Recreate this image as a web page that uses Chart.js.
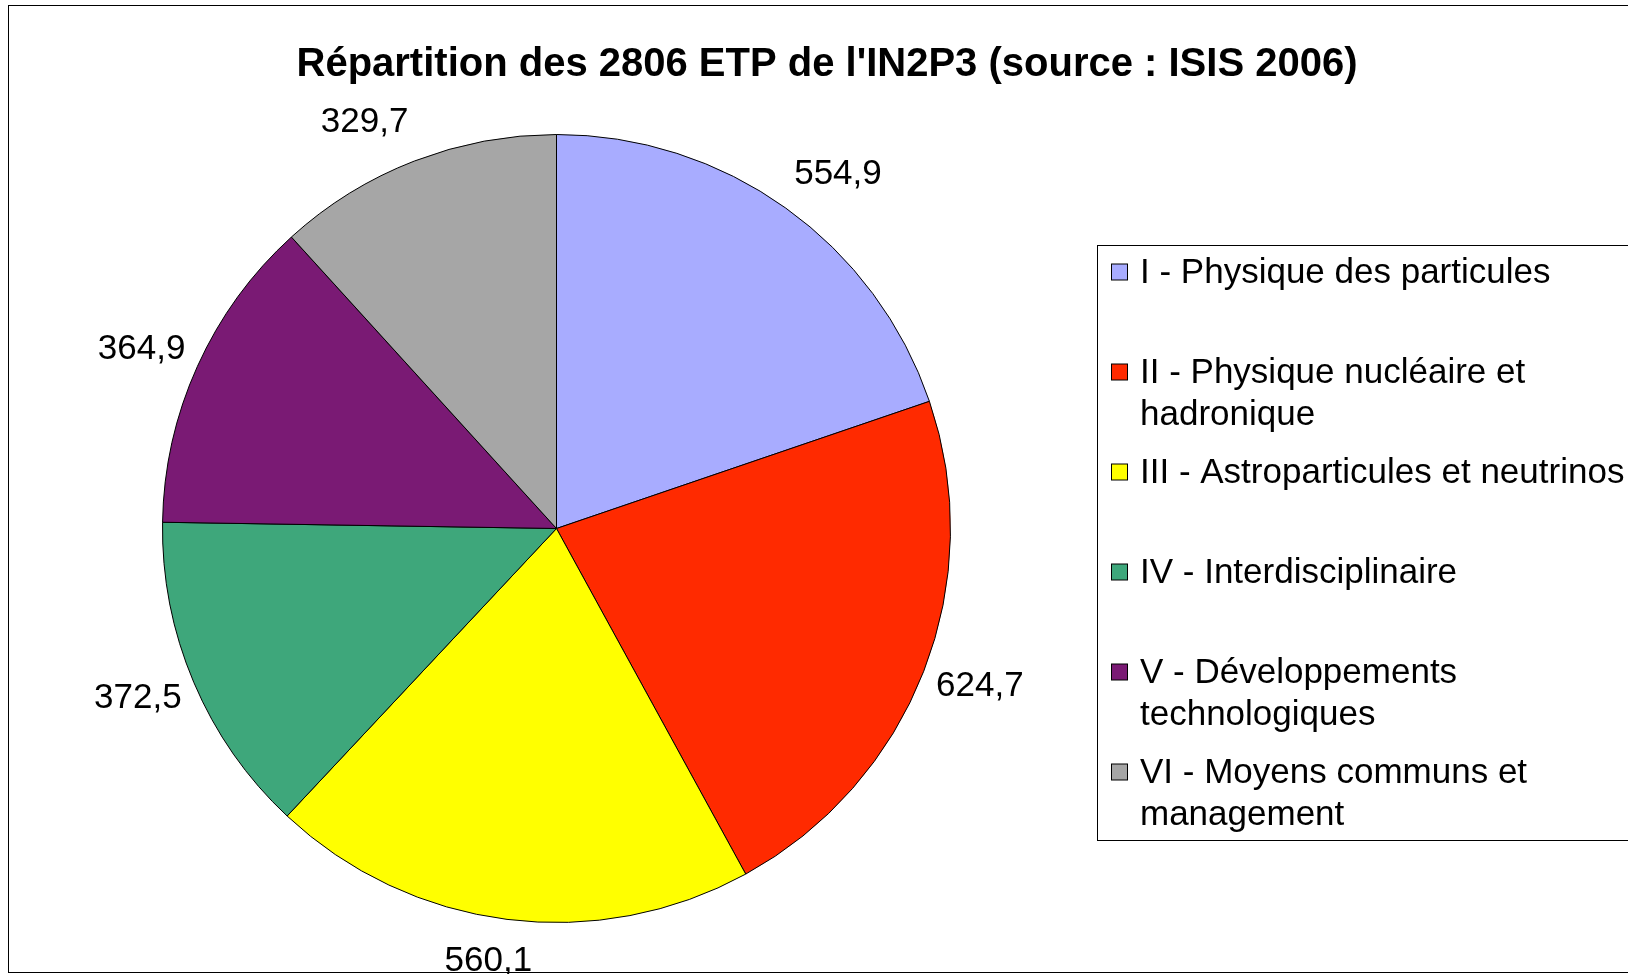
<!DOCTYPE html>
<html>
<head>
<meta charset="utf-8">
<script src="https://cdn.jsdelivr.net/npm/chart.js@4/dist/chart.umd.min.js"></script>
<style>
    body { margin: 0; background: #fff; }
    canvas { display: block; }
</style>
</head>
<body>
<canvas id="etpChart" width="1628" height="974"></canvas>
<script>
// Data
const categories = [
    'I - Physique des particules',
    'II - Physique nucléaire et hadronique',
    'III - Astroparticules et neutrinos',
    'IV - Interdisciplinaire',
    'V - Développements technologiques',
    'VI - Moyens communs et management'
];
const etpValues = [554.9, 624.7, 560.1, 372.5, 364.9, 329.7];
const sliceColors = ['#A8ACFF', '#FF2A00', '#FFFF00', '#3EA77B', '#7A1A74', '#A6A6A6'];
const chartTitle = "Répartition des 2806 ETP de l'IN2P3 (source : ISIS 2006)";

const FONT = "'Liberation Sans', Arial, sans-serif";

// split a label into lines that fit maxWidth
function wrapText(ctx, text, maxWidth) {
    const words = text.split(' ');
    const lines = [];
    let line = '';
    words.forEach(w => {
        const test = line ? line + ' ' + w : w;
        if (ctx.measureText(test).width > maxWidth && line) {
            lines.push(line);
            line = w;
        } else {
            line = test;
        }
    });
    if (line) lines.push(line);
    return lines;
}

// Excel-style decorations: frame, title, outside value labels, boxed legend
const excelDecor = {
    id: 'excelDecor',
    afterDraw(chart) {
        const ctx = chart.ctx;
        ctx.save();

        // outer frame
        ctx.strokeStyle = '#000';
        ctx.lineWidth = 1;
        ctx.strokeRect(8.5, 5.5, 1640, 967);

        // title
        ctx.fillStyle = '#000';
        ctx.font = 'bold 40px ' + FONT;
        ctx.textAlign = 'center';
        ctx.textBaseline = 'middle';
        ctx.fillText(chartTitle, 827, 65);

        // value labels outside each slice
        ctx.font = '35px ' + FONT;
        const meta = chart.getDatasetMeta(0);
        meta.data.forEach((arc, i) => {
            const p = arc.getProps(['x', 'y', 'startAngle', 'endAngle', 'outerRadius'], true);
            const mid = (p.startAngle + p.endAngle) / 2;
            const ux = Math.cos(mid), uy = Math.sin(mid);
            const txt = etpValues[i].toFixed(1).replace('.', ',');
            const w = ctx.measureText(txt).width;
            const side = Math.max(-1, Math.min(1, ux * 3));
            const cx = p.x + (p.outerRadius + 11) * ux + side * (w / 2 + 2);
            const cy = p.y + (p.outerRadius + 42) * uy;
            ctx.fillText(txt, cx, cy);
        });

        // legend box
        ctx.strokeRect(1097.5, 245.5, 600, 595);
        ctx.textAlign = 'left';
        categories.forEach((label, i) => {
            const y0 = 273 + 100 * i;
            ctx.fillStyle = sliceColors[i];
            ctx.fillRect(1111.5, y0 - 9, 16, 16);
            ctx.strokeStyle = '#000';
            ctx.strokeRect(1111.5, y0 - 9, 16, 16);
            ctx.fillStyle = '#000';
            wrapText(ctx, label, 500).forEach((line, j) => {
                ctx.fillText(line, 1140, y0 + j * 42.5);
            });
        });

        ctx.restore();
    }
};

new Chart(document.getElementById('etpChart'), {
    type: 'pie',
    data: {
        labels: categories,
        datasets: [{
            data: etpValues,
            backgroundColor: sliceColors,
            borderColor: '#000',
            borderWidth: 1
        }]
    },
    options: {
        responsive: false,
        animation: false,
        layout: {
            padding: { left: 162, right: 677, top: 134, bottom: 51 }
        },
        plugins: {
            legend: { display: false },
            title: { display: false },
            tooltip: { enabled: false }
        }
    },
    plugins: [excelDecor]
});
</script>
</body>
</html>
